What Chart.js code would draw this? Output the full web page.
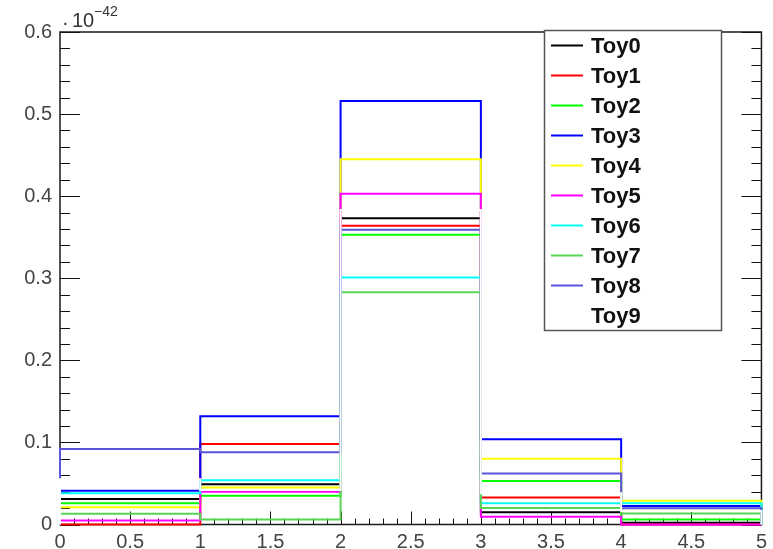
<!DOCTYPE html>
<html>
<head>
<meta charset="utf-8">
<script src="https://cdn.jsdelivr.net/npm/chart.js@4"></script>
<style>
  html, body { margin: 0; padding: 0; background: #ffffff; }
  #wrap { width: 773px; height: 549px; position: relative; }
</style>
</head>
<body>
<div id="wrap"><canvas id="c" width="773" height="549"></canvas></div>
<script>
// Bin edges shared by every toy histogram
const binEdges = [0, 1, 2, 3, 4, 5];

// Bin contents, in units of 1e-42
const toy0 = [0.031, 0.049, 0.373, 0.015, 0.002];
const toy1 = [0.000, 0.098, 0.364, 0.033, 0.000];
const toy2 = [0.026, 0.035, 0.353, 0.053, 0.006];
const toy3 = [0.041, 0.132, 0.516, 0.104, 0.0225];
const toy4 = [0.021, 0.045, 0.445, 0.080, 0.029];
const toy5 = [0.005, 0.040, 0.403, 0.0095, 0.000];
const toy6 = [0.038, 0.054, 0.301, 0.026, 0.026];
const toy7 = [0.013, 0.006, 0.283, 0.020, 0.0135];
const toy8 = [0.092, 0.088, 0.359, 0.062, 0.0197];
const toy9 = [0.055, 0.042, 0.383, 0.038, 0.0165];

const toyNames = ['Toy0', 'Toy1', 'Toy2', 'Toy3', 'Toy4', 'Toy5', 'Toy6', 'Toy7', 'Toy8', 'Toy9'];
const toyValues = [toy0, toy1, toy2, toy3, toy4, toy5, toy6, toy7, toy8, toy9];
const toyColors = ['#000000', '#ff0000', '#00ff00', '#0000ff', '#ffff00',
                   '#ff00ff', '#00ffff', '#59d454', '#5954d9', '#ffffff'];

// Axis ranges and tick spacing
const xRange = [0, 5];
const yRange = [0, 0.6];
const xMajorStep = 0.5, xMinorStep = 0.1;
const yMajorStep = 0.1, yMinorStep = 0.02;
const yExponent = '\u221242';

// Outline of a histogram as a stepped path: up from zero at the first edge,
// across each bin, and back down to zero at the last edge.
function histPoints(vals) {
  const pts = [{ x: binEdges[0], y: 0 }];
  vals.forEach((v, i) => pts.push({ x: binEdges[i], y: v }));
  pts.push({ x: binEdges[vals.length], y: 0 });
  return pts;
}

const datasets = toyNames.map((name, i) => ({
  label: name,
  data: histPoints(toyValues[i]),
  borderColor: toyColors[i],
  backgroundColor: toyColors[i],
  borderWidth: 2,
  stepped: 'before',
  pointRadius: 0,
  pointHoverRadius: 0,
  fill: false,
  tension: 0,
  clip: false,
  order: toyNames.length - 1 - i   // later toys are painted over earlier ones
}));

const labelFont = { family: "'Liberation Sans', Arial, sans-serif", size: 20 };

// Frame and inward-pointing tick marks
const frameTicks = {
  id: 'frameTicks',
  beforeDatasetsDraw(chart) {
    const { ctx, chartArea: a, scales: { x, y } } = chart;
    ctx.save();
    ctx.strokeStyle = '#111';
    ctx.lineWidth = 1;
    const nY = Math.round((yRange[1] - yRange[0]) / yMinorStep);
    const perY = Math.round(yMajorStep / yMinorStep);
    for (let i = 0; i <= nY; i++) {
      const py = Math.round(y.getPixelForValue(yRange[0] + i * yMinorStep)) + 0.5;
      const len = i % perY === 0 ? 20 : 10;
      ctx.beginPath();
      ctx.moveTo(a.left, py); ctx.lineTo(a.left + len, py);
      ctx.moveTo(a.right, py); ctx.lineTo(a.right - len, py);
      ctx.stroke();
    }
    const nX = Math.round((xRange[1] - xRange[0]) / xMinorStep);
    const perX = Math.round(xMajorStep / xMinorStep);
    for (let i = 0; i <= nX; i++) {
      const px = Math.round(x.getPixelForValue(xRange[0] + i * xMinorStep)) + 0.5;
      const len = i % perX === 0 ? 13 : 6;
      ctx.beginPath();
      ctx.moveTo(px, a.bottom); ctx.lineTo(px, a.bottom - len);
      ctx.stroke();
    }
    ctx.lineWidth = 1.5;
    ctx.strokeStyle = '#1a1a1a';
    ctx.strokeRect(a.left, a.top, a.right - a.left, a.bottom - a.top);
    ctx.restore();
  }
};

// Boxed legend in the upper right and the axis exponent
const boxLegend = {
  id: 'boxLegend',
  afterDatasetsDraw(chart) {
    const { ctx } = chart;
    const box = { left: 544, top: 30, width: 177, height: 300 };
    const rowH = box.height / chart.data.datasets.length;
    ctx.save();
    ctx.fillStyle = '#ffffff';
    ctx.fillRect(box.left, box.top, box.width, box.height);
    ctx.strokeStyle = '#555';
    ctx.lineWidth = 1.5;
    ctx.strokeRect(box.left + 0.5, box.top + 0.5, box.width, box.height);
    ctx.font = "bold 22px 'Liberation Sans', Arial, sans-serif";
    ctx.textBaseline = 'alphabetic';
    ctx.textAlign = 'left';
    chart.data.datasets.forEach((ds, i) => {
      const cy = box.top + rowH * (i + 0.5);
      ctx.strokeStyle = ds.borderColor;
      ctx.lineWidth = 2;
      ctx.beginPath();
      ctx.moveTo(551, Math.round(cy) + 0.5);
      ctx.lineTo(583, Math.round(cy) + 0.5);
      ctx.stroke();
      ctx.fillStyle = '#111';
      ctx.fillText(ds.label, 591, cy + 8);
    });

    // "·10^-42" multiplier at the top of the y axis
    ctx.fillStyle = '#333';
    ctx.font = "20px 'Liberation Sans', Arial, sans-serif";
    ctx.fillText('\u00b7', 62, 29);
    ctx.fillText('10', 72, 27);
    ctx.font = "14px 'Liberation Sans', Arial, sans-serif";
    ctx.fillText(yExponent, 94, 16);
    ctx.restore();
  }
};

new Chart(document.getElementById('c'), {
  type: 'line',
  data: { datasets },
  options: {
    responsive: false,
    animation: false,
    events: [],
    layout: { padding: { left: 0, right: 9, top: 32, bottom: 0 } },
    plugins: { legend: { display: false }, tooltip: { enabled: false } },
    scales: {
      x: {
        type: 'linear',
        min: xRange[0], max: xRange[1],
        grid: { display: false, drawTicks: false },
        border: { display: false },
        ticks: {
          stepSize: xMajorStep, autoSkip: false, maxRotation: 0,
          font: labelFont, color: '#444', padding: 6,
          callback: v => String(+v.toFixed(1))
        },
        afterFit(s) { s.height = 24.5; }
      },
      y: {
        type: 'linear',
        min: yRange[0], max: yRange[1],
        grid: { display: false, drawTicks: false },
        border: { display: false },
        ticks: {
          stepSize: yMajorStep, autoSkip: false,
          font: labelFont, color: '#444', padding: 8,
          callback: v => (Math.abs(v) < 1e-9 ? '0' : v.toFixed(1))
        },
        afterFit(s) { s.width = 60; }
      }
    }
  },
  plugins: [frameTicks, boxLegend]
});
</script>
</body>
</html>
